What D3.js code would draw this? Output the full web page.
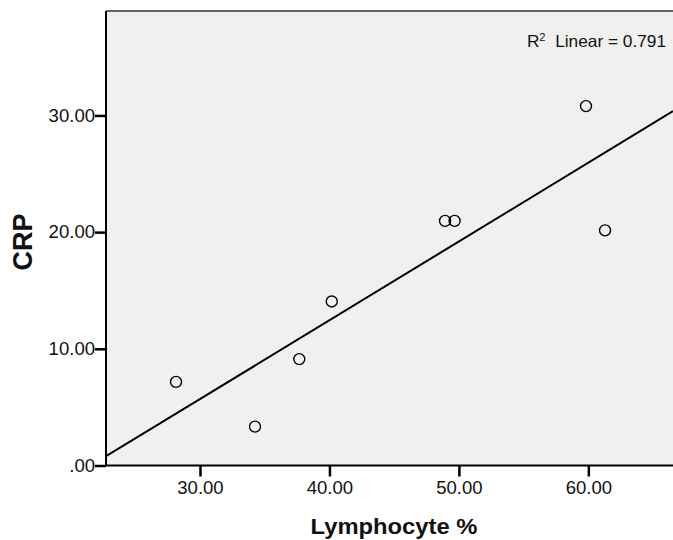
<!DOCTYPE html>
<html>
<head>
<meta charset="utf-8">
<script src="https://cdn.jsdelivr.net/npm/d3@7"></script>
<style>
  html, body { margin: 0; padding: 0; background: #fff; }
  svg { display: block; }
  text { font-family: Arial, "Liberation Sans", sans-serif; fill: #111; }
</style>
</head>
<body>
<svg id="chart" width="673" height="540"></svg>
<script>
// Lymphocyte % vs CRP observations
const lymphocyte = [28.15, 34.25, 37.67, 40.18, 48.93, 49.67, 59.82, 61.29];
const crp        = [7.17,  3.33,  9.12,  14.06, 20.96, 20.96, 30.80, 20.15];
const xTicks = [30, 40, 50, 60];
const yTicks = [0, 10, 20, 30];
const xDomain = [22.74, 66.54];
const yDomain = [0, 38.95];
const r2Label = "0.791";

const svg = d3.select("#chart");
const plotLeft = 106, plotTop = 11, plotRight = 673, plotBottom = 465.5;
const stretch = 1.06; // text is set slightly wide

const x = d3.scaleLinear().domain(xDomain).range([plotLeft, plotRight]);
const y = d3.scaleLinear().domain(yDomain).range([plotBottom, plotTop]);

const fmt = v => v === 0 ? ".00" : d3.format(".2f")(v);

// plot background
svg.append("rect")
  .attr("x", plotLeft).attr("y", plotTop)
  .attr("width", plotRight - plotLeft + 2).attr("height", plotBottom - plotTop)
  .attr("fill", "#f0f0f0");

// top frame line
svg.append("line")
  .attr("x1", plotLeft).attr("x2", plotRight + 2)
  .attr("y1", plotTop).attr("y2", plotTop)
  .attr("stroke", "#333").attr("stroke-width", 1.5);

// least-squares fit line
const mx = d3.mean(lymphocyte), my = d3.mean(crp);
const sxy = d3.sum(lymphocyte, (v, i) => (v - mx) * (crp[i] - my));
const sxx = d3.sum(lymphocyte, v => (v - mx) ** 2);
const slope = sxy / sxx, intercept = my - slope * mx;
const fit = xDomain.map(v => [v, intercept + slope * v]);

const plot = svg.append("g");
plot.append("clipPath").attr("id", "clip")
  .append("rect").attr("x", plotLeft).attr("y", plotTop)
  .attr("width", plotRight - plotLeft).attr("height", plotBottom - plotTop);

plot.append("path")
  .datum(fit)
  .attr("clip-path", "url(#clip)")
  .attr("fill", "none")
  .attr("stroke", "#000")
  .attr("stroke-width", 2)
  .attr("d", d3.line().x(d => x(d[0])).y(d => y(d[1])));

// observations
plot.selectAll("circle")
  .data(lymphocyte.map((v, i) => [v, crp[i]]))
  .join("circle")
  .attr("cx", d => x(d[0]))
  .attr("cy", d => y(d[1]))
  .attr("r", 5.5)
  .attr("fill", "none")
  .attr("stroke", "#000")
  .attr("stroke-width", 1.4);

// axes
const xAxis = svg.append("g")
  .attr("transform", `translate(0,${plotBottom})`)
  .call(d3.axisBottom(x).tickValues(xTicks).tickFormat(fmt).tickSize(11).tickPadding(5));
const yAxis = svg.append("g")
  .attr("transform", `translate(${plotLeft},0)`)
  .call(d3.axisLeft(y).tickValues(yTicks).tickFormat(fmt).tickSize(11).tickPadding(0));

[xAxis, yAxis].forEach(g => {
  g.select(".domain").attr("stroke", "#000").attr("stroke-width", 2);
  g.selectAll(".tick line").attr("stroke", "#000").attr("stroke-width", 2.5);
  g.selectAll(".tick text")
    .attr("font-size", 17.5)
    .attr("font-family", "Arial, 'Liberation Sans', sans-serif")
    .attr("fill", "#111")
    .attr("transform", `scale(${stretch},1)`);
});
yAxis.selectAll(".tick text").attr("x", -11 / stretch);
xAxis.select(".domain").attr("d", `M${plotLeft},0H${plotRight + 2}`);
yAxis.select(".domain").attr("d", `M0,${plotBottom}V${plotTop}`);

// axis titles
svg.append("g")
  .attr("transform", `translate(394,534) scale(${stretch * 1.02},1)`)
  .append("text")
  .attr("text-anchor", "middle")
  .attr("font-size", 22).attr("font-weight", "bold")
  .text("Lymphocyte %");

svg.append("text")
  .attr("transform", "translate(32,242) rotate(-90)")
  .attr("text-anchor", "middle")
  .attr("font-size", 27).attr("font-weight", "bold")
  .text("CRP");

// fit annotation
const ann = svg.append("g")
  .attr("transform", `translate(666,47) scale(${stretch},1)`)
  .append("text")
  .attr("text-anchor", "end")
  .attr("font-size", 16.3);
ann.append("tspan").text("R");
ann.append("tspan").attr("font-size", 10.5).attr("dy", -6.5).text("2");
ann.append("tspan").attr("dy", 6.5).text("\u00a0 Linear = " + r2Label);
</script>
</body>
</html>
